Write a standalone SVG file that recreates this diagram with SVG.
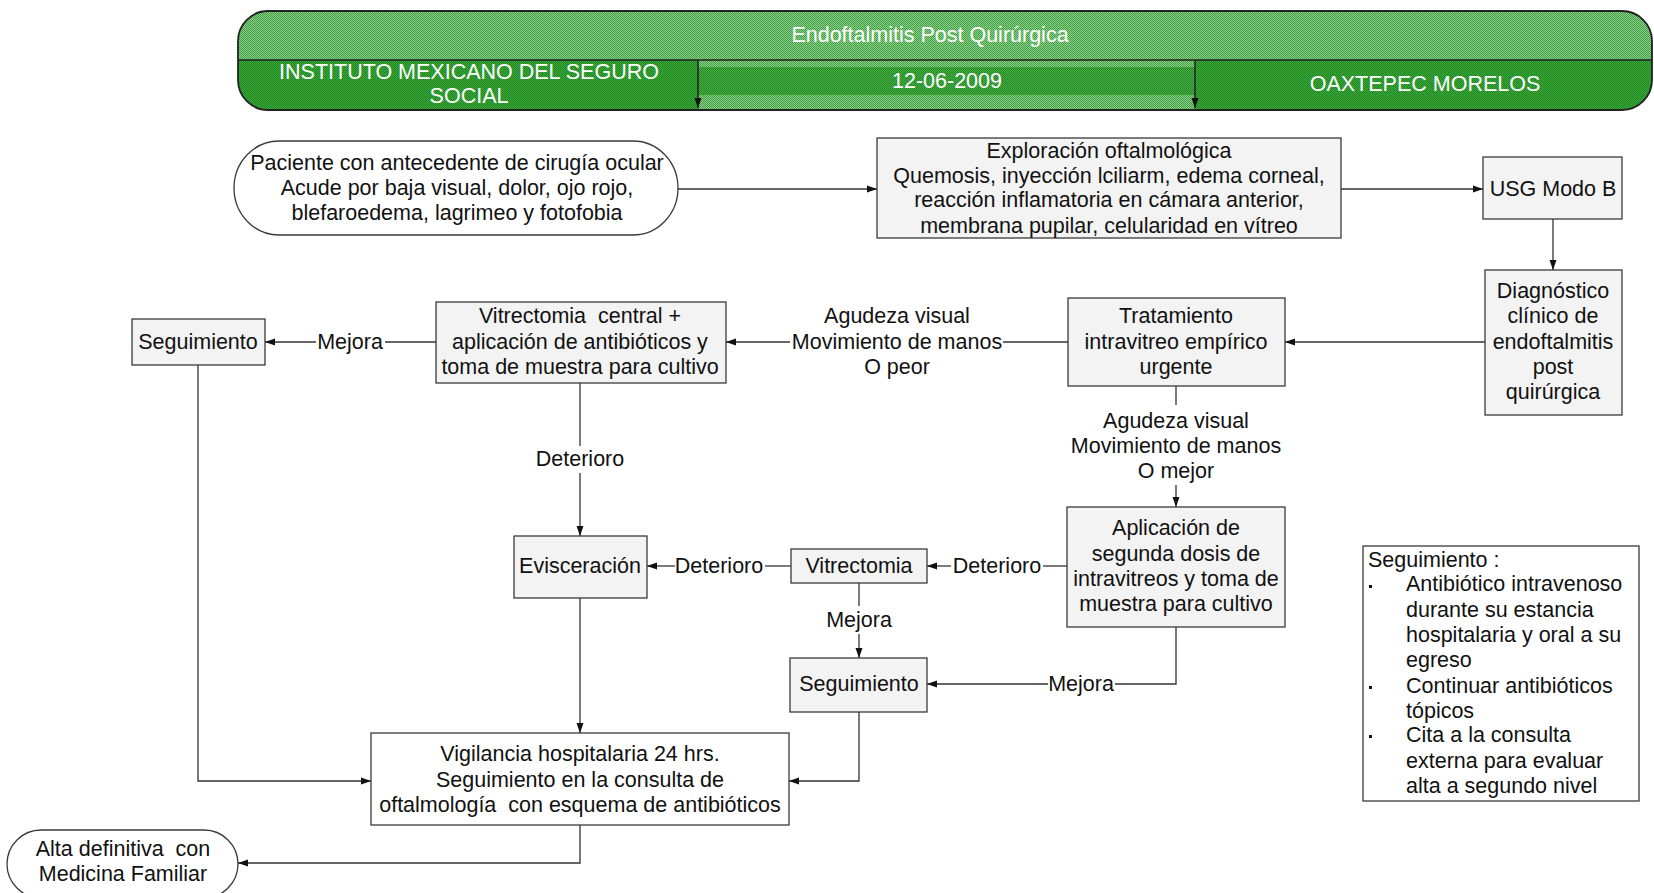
<svg xmlns="http://www.w3.org/2000/svg" width="1654" height="893" viewBox="0 0 1654 893">
<style>
text{font-family:"Liberation Sans",Arial,sans-serif;font-size:21.5px;fill:#111;white-space:pre}
.c{text-anchor:middle}
.h{fill:#fff;text-anchor:middle}
.box{fill:#f3f3f3;stroke:#3a3a3a;stroke-width:1.3}
.wbox{fill:#fff;stroke:#3a3a3a;stroke-width:1.3}
.ln{fill:none;stroke:#333;stroke-width:1.3}
.arr{marker-end:url(#ah)}
</style>
<defs>
<marker id="ah" markerUnits="userSpaceOnUse" markerWidth="10" markerHeight="10" viewBox="0 0 10 10" refX="10" refY="5" orient="auto">
<path d="M0,1.5 L10,5 L0,8.5 Z" fill="#111"/>
</marker>
<pattern id="pLight" patternUnits="userSpaceOnUse" width="2" height="2">
<rect width="2" height="2" fill="#8fcf8f"/><rect width="1" height="1" fill="#3f9f3f"/><rect x="1" y="1" width="1" height="1" fill="#3f9f3f"/>
</pattern>
<pattern id="pDark" patternUnits="userSpaceOnUse" width="2" height="2">
<rect width="2" height="2" fill="#3fa53f"/><rect width="1" height="1" fill="#1c8a1c"/><rect x="1" y="1" width="1" height="1" fill="#1c8a1c"/>
</pattern>
<clipPath id="hc"><rect x="238" y="11" width="1414" height="99" rx="30" ry="30"/></clipPath>
</defs>

<g id="header">
<g clip-path="url(#hc)">
<rect x="238" y="11" width="1414" height="99" fill="url(#pLight)"/>
<rect x="238" y="60" width="460" height="50" fill="url(#pDark)"/>
<rect x="698" y="67" width="497" height="28" fill="url(#pDark)" opacity="0.85"/>
<rect x="1195" y="60" width="457" height="50" fill="url(#pDark)"/>
</g>
<rect x="238" y="11" width="1414" height="99" rx="30" ry="30" fill="none" stroke="#222" stroke-width="1.8"/>
<line x1="238" y1="60" x2="1652" y2="60" stroke="#222" stroke-width="1.5"/>
<line x1="698" y1="60" x2="698" y2="108" stroke="#222" stroke-width="1.5" class="arr"/>
<line x1="1195" y1="60" x2="1195" y2="108" stroke="#222" stroke-width="1.5" class="arr"/>
<text class="h" x="930" y="42">Endoftalmitis Post Quirúrgica</text>
<text class="h" x="469" y="79">INSTITUTO MEXICANO DEL SEGURO</text>
<text class="h" x="469" y="103">SOCIAL</text>
<text class="h" x="947" y="88">12-06-2009</text>
<text class="h" x="1425" y="91">OAXTEPEC MORELOS</text>
</g>

<g id="connectors">
<line class="ln arr" x1="678" y1="189" x2="877" y2="189"/>
<line class="ln arr" x1="1341" y1="189" x2="1483" y2="189"/>
<line class="ln arr" x1="1553" y1="219" x2="1553" y2="270"/>
<line class="ln arr" x1="1485" y1="342" x2="1285" y2="342"/>
<line class="ln" x1="1068" y1="342" x2="1003" y2="342"/>
<line class="ln arr" x1="790" y1="342" x2="726" y2="342"/>
<line class="ln" x1="436" y1="342" x2="385" y2="342"/>
<line class="ln arr" x1="316" y1="342" x2="265" y2="342"/>
<polyline class="ln arr" points="198,365 198,781 371,781"/>
<line class="ln" x1="580" y1="383" x2="580" y2="446"/>
<line class="ln arr" x1="580" y1="473" x2="580" y2="536"/>
<line class="ln arr" x1="580" y1="598" x2="580" y2="733"/>
<line class="ln" x1="1176" y1="386" x2="1176" y2="405"/>
<line class="ln arr" x1="1176" y1="485" x2="1176" y2="507"/>
<line class="ln" x1="1067" y1="566" x2="1043" y2="566"/>
<line class="ln arr" x1="951" y1="566" x2="927" y2="566"/>
<line class="ln" x1="791" y1="566" x2="765" y2="566"/>
<line class="ln arr" x1="675" y1="566" x2="647" y2="566"/>
<line class="ln" x1="859" y1="583" x2="859" y2="606"/>
<line class="ln arr" x1="859" y1="634" x2="859" y2="658"/>
<polyline class="ln" points="1176,627 1176,684 1115,684"/>
<line class="ln arr" x1="1048" y1="684" x2="927" y2="684"/>
<polyline class="ln arr" points="859,712 859,781 789,781"/>
<polyline class="ln arr" points="580,825 580,863 238,863"/>
<text class="c" x="897" y="323">Agudeza visual</text>
<text class="c" x="897" y="349">Movimiento de manos</text>
<text class="c" x="897" y="374">O peor</text>
<text class="c" x="350" y="349">Mejora</text>
<text class="c" x="580" y="466">Deterioro</text>
<text class="c" x="1176" y="428">Agudeza visual</text>
<text class="c" x="1176" y="453">Movimiento de manos</text>
<text class="c" x="1176" y="478">O mejor</text>
<text class="c" x="997" y="573">Deterioro</text>
<text class="c" x="719" y="573">Deterioro</text>
<text class="c" x="859" y="627">Mejora</text>
<text class="c" x="1081" y="691">Mejora</text>
</g>

<g id="paciente">
<rect class="wbox" x="234" y="141" width="444" height="94" rx="45" ry="47"/>
<text class="c" x="457" y="170">Paciente con antecedente de cirugía ocular</text>
<text class="c" x="457" y="195">Acude por baja visual, dolor, ojo rojo,</text>
<text class="c" x="457" y="220">blefaroedema, lagrimeo y fotofobia</text>
</g>

<g id="exploracion">
<rect class="box" x="877" y="138" width="464" height="100"/>
<text class="c" x="1109" y="158">Exploración oftalmológica</text>
<text class="c" x="1109" y="183">Quemosis, inyección lciliarm, edema corneal,</text>
<text class="c" x="1109" y="207">reacción inflamatoria en cámara anterior,</text>
<text class="c" x="1109" y="233">membrana pupilar, celularidad en vítreo</text>
</g>

<g id="usg">
<rect class="box" x="1483" y="157" width="139" height="62"/>
<text class="c" x="1553" y="196">USG Modo B</text>
</g>

<g id="diagnostico">
<rect class="box" x="1485" y="270" width="137" height="145"/>
<text class="c" x="1553" y="298">Diagnóstico</text>
<text class="c" x="1553" y="323">clínico de</text>
<text class="c" x="1553" y="349">endoftalmitis</text>
<text class="c" x="1553" y="374">post</text>
<text class="c" x="1553" y="399">quirúrgica</text>
</g>

<g id="tratamiento">
<rect class="box" x="1068" y="298" width="217" height="88"/>
<text class="c" x="1176" y="323">Tratamiento</text>
<text class="c" x="1176" y="349">intravitreo empírico</text>
<text class="c" x="1176" y="374">urgente</text>
</g>

<g id="vitrectomia-central">
<rect class="box" x="436" y="302" width="290" height="81"/>
<text class="c" x="580" y="323">Vitrectomia  central +</text>
<text class="c" x="580" y="349">aplicación de antibióticos y</text>
<text class="c" x="580" y="374">toma de muestra para cultivo</text>
</g>

<g id="seguimiento-1">
<rect class="box" x="132" y="319" width="133" height="46"/>
<text class="c" x="198" y="349">Seguimiento</text>
</g>

<g id="evisceracion">
<rect class="box" x="514" y="536" width="133" height="62"/>
<text class="c" x="580" y="573">Evisceración</text>
</g>

<g id="vitrectomia">
<rect class="box" x="791" y="549" width="136" height="34"/>
<text class="c" x="859" y="573">Vitrectomia</text>
</g>

<g id="aplicacion">
<rect class="box" x="1067" y="507" width="218" height="120"/>
<text class="c" x="1176" y="535">Aplicación de</text>
<text class="c" x="1176" y="561">segunda dosis de</text>
<text class="c" x="1176" y="586">intravitreos y toma de</text>
<text class="c" x="1176" y="611">muestra para cultivo</text>
</g>

<g id="seguimiento-2">
<rect class="box" x="790" y="658" width="137" height="54"/>
<text class="c" x="859" y="691">Seguimiento</text>
</g>

<g id="vigilancia">
<rect class="wbox" x="371" y="733" width="418" height="92"/>
<text class="c" x="580" y="761">Vigilancia hospitalaria 24 hrs.</text>
<text class="c" x="580" y="787">Seguimiento en la consulta de</text>
<text class="c" x="580" y="812">oftalmología  con esquema de antibióticos</text>
</g>

<g id="alta">
<rect class="wbox" x="7" y="830" width="231" height="68" rx="34" ry="34"/>
<text class="c" x="123" y="856">Alta definitiva  con</text>
<text class="c" x="123" y="881">Medicina Familiar</text>
</g>

<g id="nota">
<rect class="wbox" x="1363" y="546" width="276" height="255"/>
<text x="1368" y="567">Seguimiento :</text>
<rect x="1369" y="585" width="3" height="3" fill="#111"/>
<rect x="1369" y="686" width="3" height="3" fill="#111"/>
<rect x="1369" y="735" width="3" height="3" fill="#111"/>
<text x="1406" y="591">Antibiótico intravenoso</text>
<text x="1406" y="617">durante su estancia</text>
<text x="1406" y="642">hospitalaria y oral a su</text>
<text x="1406" y="667">egreso</text>
<text x="1406" y="693">Continuar antibióticos</text>
<text x="1406" y="718">tópicos</text>
<text x="1406" y="742">Cita a la consulta</text>
<text x="1406" y="768">externa para evaluar</text>
<text x="1406" y="793">alta a segundo nivel</text>
</g>
</svg>
